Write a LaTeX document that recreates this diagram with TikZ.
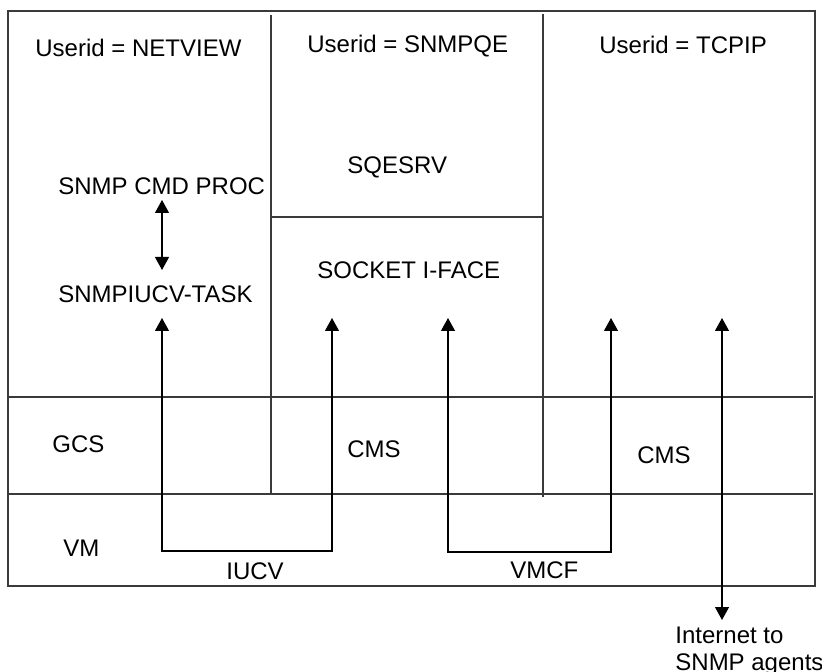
\documentclass[tikz,border=0pt]{standalone}
\usepackage{fontspec}
\setmainfont{Liberation Sans}
\usetikzlibrary{arrows.meta, positioning}
\definecolor{ruleline}{HTML}{3A3A3A}

\begin{document}
\begin{tikzpicture}[x=0.5pt, y=-0.5pt,
      boxtext/.style={anchor=base west, inner sep=0pt,
        font=\fontsize{12}{14}\selectfont},
      frame/.style={draw=ruleline, line width=0.6pt},
      flow/.style={draw=black, line width=0.6pt,
        {Triangle[length=6.5pt,width=7pt]}-{Triangle[length=6.5pt,width=7pt]}}
    ]
      \useasboundingbox (0,0) rectangle (822,672);
      % frame and layers
      \draw[frame] (8,11) rectangle (815,586);
      \draw[frame] (271,15) -- (271,494);
      \draw[frame] (543,14) -- (543,497);
      \draw[frame] (271,217) -- (543,217);
      \draw[frame] (7,397) -- (813,397);
      \draw[frame] (7,494) -- (813,494);
      % texts
      \node[boxtext] (netview) at (35,57) {Userid = NETVIEW};
      \node[boxtext] (snmpqe) at (307,53) {Userid = SNMPQE};
      \node[boxtext] (tcpip) at (599,54) {Userid = TCPIP};
      \node[boxtext] (sqesrv) at (347,174) {SQESRV};
      \node[boxtext] (cmdproc) at (58,195) {SNMP CMD PROC};
      \node[boxtext] (iucvtask) at (58,303) {SNMPIUCV-TASK};
      \node[boxtext] (socket) at (317,279) {SOCKET I-FACE};
      \node[boxtext] (gcs) at (52,452) {GCS};
      \node[boxtext] (cmsmid) at (347,457) {CMS};
      \node[boxtext] (cmsright) at (637,463) {CMS};
      \node[boxtext] (vm) at (63,556) {VM};
      \node[boxtext] (iucv) at (226,579) {IUCV};
      \node[boxtext] (vmcf) at (510,578) {VMCF};
      \node[boxtext] (inet) at (675,643) {Internet to};
      \node[boxtext] (agents) at (675,670) {SNMP agents};
      % connectors
      \coordinate (procend) at (162,200);
      \coordinate (taskend) at (162,270);
      \coordinate (iucvleft) at (162,318);
      \coordinate (iucvlow) at (162,551);
      \coordinate (iucvright) at (332,318);
      \coordinate (vmcfleft) at (448,318);
      \coordinate (vmcflow) at (448,552);
      \coordinate (vmcfright) at (611,318);
      \coordinate (inettop) at (722,318);
      \coordinate (inetend) at (722,620);
      \draw[flow] (procend) -- (taskend);
      \draw[flow] (iucvleft) -- (iucvlow) -| (iucvright);
      \draw[flow] (vmcfleft) -- (vmcflow) -| (vmcfright);
      \draw[flow] (inettop) -- (inetend);
    \end{tikzpicture}
\end{document}
